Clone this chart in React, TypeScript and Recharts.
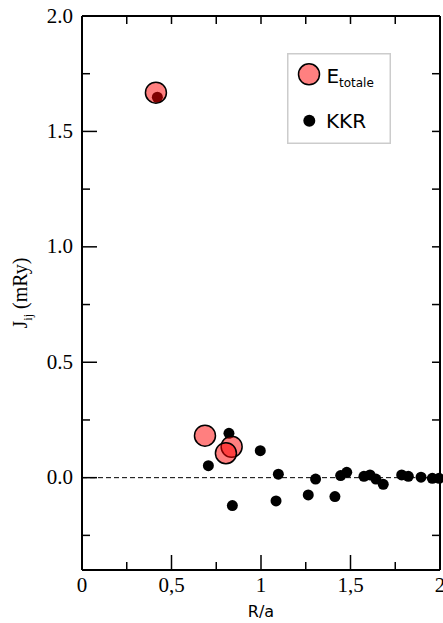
import React from 'react';
import { ScatterChart, Scatter, XAxis, YAxis, ReferenceLine } from 'recharts';

// KKR exchange constants
const kkrX = [0.421, 0.706, 0.821, 0.840, 0.996, 1.084, 1.097, 1.264, 1.305, 1.413, 1.445, 1.479, 1.575, 1.609, 1.642, 1.683, 1.786, 1.823, 1.894, 1.957, 1.995];
const kkrY = [1.648, 0.052, 0.192, -0.121, 0.117, -0.101, 0.015, -0.075, -0.006, -0.082, 0.009, 0.023, 0.006, 0.012, -0.006, -0.029, 0.012, 0.006, 0.002, -0.003, -0.003];

// Total energy values
const etotX = [0.413, 0.687, 0.836, 0.804];
const etotY = [1.668, 0.182, 0.134, 0.106];

// Axis ranges and ticks
const xDomain = [0, 2];
const yDomain = [-0.4, 2];
const xTicks = [0, 0.25, 0.5, 0.75, 1, 1.25, 1.5, 1.75, 2];
const yTicks = [-0.25, 0, 0.25, 0.5, 0.75, 1, 1.25, 1.5, 1.75, 2];
const xTickLabels = ['0', '0,5', '1', '1,5', '2'];
const yTickLabels = ['0.0', '0.5', '1.0', '1.5', '2.0'];

const kkrData = kkrX.map((x, i) => ({ x, y: kkrY[i] }));
const etotData = etotX.map((x, i) => ({ x, y: etotY[i] }));

// layout
const W = 443;
const H = 623;
const M = { top: 16, right: 3, bottom: 0, left: 0 };
const Y_AXIS_W = 82;
const X_AXIS_H = 53;

const SERIF = 'Liberation Serif';
const SANS = 'DejaVu Sans';

const isMajor = (v: number) => Math.abs(v * 2 - Math.round(v * 2)) < 1e-6;

const BottomTick = (props: any) => {
  const { x, y, payload } = props;
  const v = payload.value as number;
  const major = isMajor(v);
  return (
    <g>
      <line x1={x} y1={y} x2={x} y2={y - (major ? 15 : 8)} stroke="#000" strokeWidth={1.5} />
      {major ? (
        <text x={x} y={y + 21.5} textAnchor="middle" fontFamily={SERIF} fontSize={21} fill="#000">
          {xTickLabels[Math.round(v * 2)]}
        </text>
      ) : null}
    </g>
  );
};

const LeftTick = (props: any) => {
  const { x, y, payload } = props;
  const v = payload.value as number;
  const major = isMajor(v);
  return (
    <g>
      <line x1={x} y1={y} x2={x + (major ? 15 : 8)} y2={y} stroke="#000" strokeWidth={1.5} />
      {major && v >= 0 ? (
        <text x={x - 9} y={y + 6.5} textAnchor="end" fontFamily={SERIF} fontSize={21} fill="#000">
          {yTickLabels[Math.round(v * 2)]}
        </text>
      ) : null}
    </g>
  );
};

// top / right ticks drawn from the end of a full-length reference line
const TopTick = (props: any) => {
  const major = isMajor(props.value);
  const top = Math.min(props.y1, props.y2);
  return <line x1={props.x1} y1={top} x2={props.x1} y2={top + (major ? 15 : 8)} stroke="#000" strokeWidth={1.5} />;
};
const RightTick = (props: any) => {
  const major = isMajor(props.value);
  const right = Math.max(props.x1, props.x2);
  return <line x1={right} y1={props.y1} x2={right - (major ? 15 : 8)} y2={props.y1} stroke="#000" strokeWidth={1.5} />;
};

const KkrDot = (props: any) => <circle cx={props.cx} cy={props.cy} r={5.5} fill="#000" />;
const EtotDot = (props: any) => (
  <circle cx={props.cx} cy={props.cy} r={10.5} fill="#ff0000" fillOpacity={0.5} stroke="#000" strokeWidth={1.5} />
);

const LegendBox = () => (
  <svg width={104} height={91} style={{ display: 'block', position: 'absolute', left: 287, top: 53 }}>
    <rect x={0.75} y={0.75} width={102.5} height={89.5} fill="#fff" stroke="#cccccc" strokeWidth={1.5} />
    <circle cx={22} cy={21.3} r={10.5} fill="#ff8080" stroke="#000" strokeWidth={1.5} />
    <text x={39.5} y={30.3} fontFamily={SANS} fontSize={20} fill="#000">E</text>
    <text x={52} y={33.5} fontFamily={SANS} fontSize={12} fill="#000">totale</text>
    <circle cx={22.3} cy={67.7} r={6} fill="#000" />
    <text x={39} y={75} fontFamily={SANS} fontSize={20} fill="#000">KKR</text>
  </svg>
);

const XLabel = (props: any) => {
  const vb = props.viewBox || { x: 82, y: 570, width: 358, height: 53 };
  return (
    <text x={vb.x + vb.width / 2} y={vb.y + 47} textAnchor="middle" fontFamily={SANS} fontSize={16} fill="#000">
      R/a
    </text>
  );
};

const YLabel = (props: any) => {
  const vb = props.viewBox || { x: 0, y: 16, width: 82, height: 554 };
  const cx = vb.x + 27;
  const cy = vb.y + vb.height / 2;
  return (
    <text x={cx} y={cy} transform={`rotate(-90, ${cx}, ${cy})`} textAnchor="middle" fontFamily={SERIF} fontSize={20} fill="#000">
      J
      <tspan fontSize={12} dy={5}>ij</tspan>
      <tspan dy={-5}> (mRy)</tspan>
    </text>
  );
};

export default function App() {
  return (
    <div style={{ position: 'absolute', left: 0, top: 0, width: W, height: H, background: '#fff' }}>
      <ScatterChart width={W} height={H} margin={M}>
        <XAxis
          type="number"
          dataKey="x"
          domain={xDomain}
          ticks={xTicks}
          interval={0}
          tickSize={0}
          tickMargin={0}
          height={X_AXIS_H}
          axisLine={{ stroke: '#000', strokeWidth: 2 }}
          tickLine={false}
          tick={BottomTick}
          label={XLabel}
        />
        <YAxis
          type="number"
          dataKey="y"
          domain={yDomain}
          ticks={yTicks}
          interval={0}
          tickSize={0}
          tickMargin={0}
          width={Y_AXIS_W}
          axisLine={{ stroke: '#000', strokeWidth: 2 }}
          tickLine={false}
          tick={LeftTick}
          label={YLabel}
        />
        <ReferenceLine y={yDomain[1]} stroke="#000" strokeWidth={2} />
        <ReferenceLine x={xDomain[1]} stroke="#000" strokeWidth={2} />
        {xTicks.map((v) => (
          <ReferenceLine key={'tx' + v} x={v} value={v} stroke="#000" shape={TopTick} />
        ))}
        {yTicks.map((v) => (
          <ReferenceLine key={'ry' + v} y={v} value={v} stroke="#000" shape={RightTick} />
        ))}
        <ReferenceLine y={0} stroke="#000" strokeWidth={1} strokeDasharray="5 3" />
        <Scatter name="KKR" data={kkrData} shape={KkrDot} isAnimationActive={false} />
        <Scatter name="E_totale" data={etotData} shape={EtotDot} isAnimationActive={false} />
      </ScatterChart>
      <LegendBox />
    </div>
  );
}
